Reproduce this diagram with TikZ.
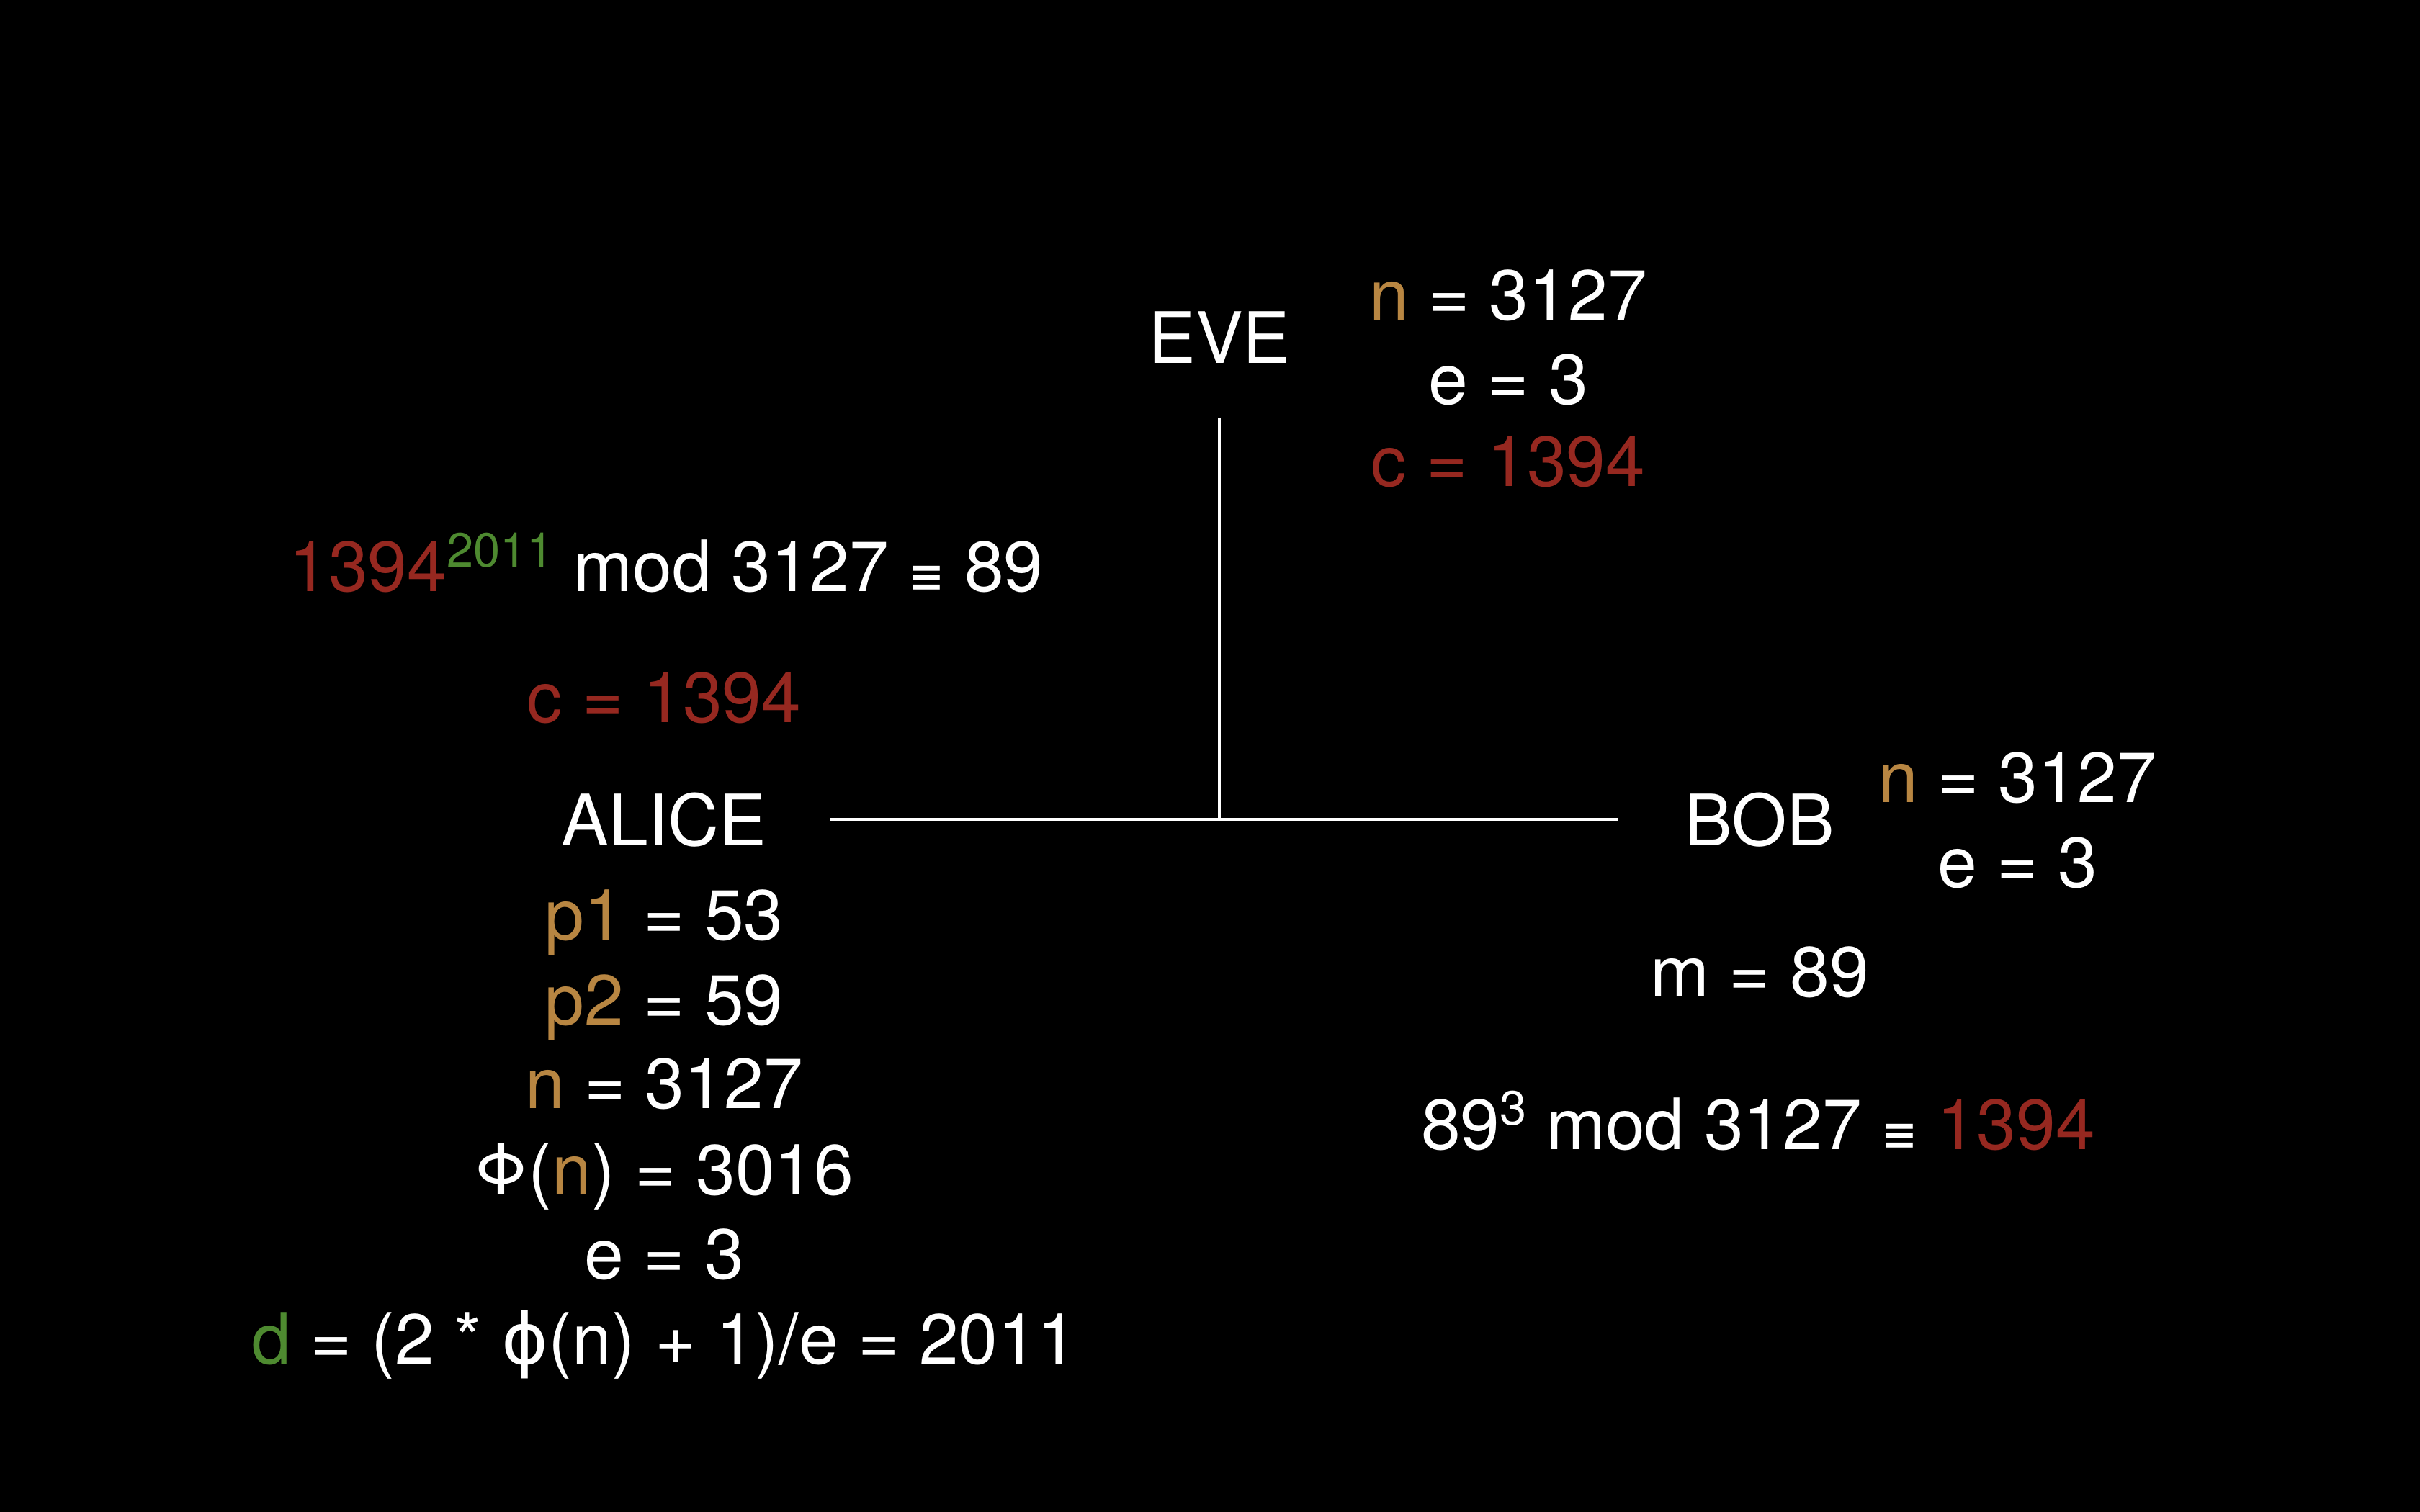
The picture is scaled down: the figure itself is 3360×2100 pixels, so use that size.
\documentclass[tikz,border=0pt]{standalone}
\usepackage{fontspec}
\setmainfont{TeX Gyre Heros}
\newfontfamily\glyphfont{DejaVu Sans}
\usepackage{xcolor}
\usepackage{tikz}
\usetikzlibrary{positioning,calc}
\definecolor{keygold}{RGB}{184,134,66}
\definecolor{cipherred}{RGB}{150,40,32}
\definecolor{secretgreen}{RGB}{78,138,48}
\newcommand{\upidx}[1]{\raisebox{9.5pt}{\fontsize{19}{19}\selectfont #1}}
\newcommand{\modeq}{{\fontsize{17}{17}\glyphfont\bfseries ≡}}

\begin{document}
\begin{tikzpicture}[x=0.01cm, y=-0.01cm,
    every node/.style={text=white, font=\fontsize{28}{34}\selectfont, inner sep=0pt, anchor=base},
    wire/.style={draw=white, line width=1.1pt}]
  \fill[black] (0,0) rectangle (3360,2100);

  % Parties
  \node (eve) at (1693,504) {EVE};
  \node (alice) at (922,1174) {ALICE};
  \node (bob) at (2443,1174) {BOB};

  % Channel
  \coordinate (junction) at (eve.south |- alice.east);
  \draw[wire, shorten <=0.87cm, shorten >=0.93cm] (alice.east) -- (bob.west);
  \draw[wire, shorten <=0.75cm] (eve.south) -- (junction);

  % What Eve sees
  \node (eveN) at (2094,444) {{\color{keygold}n} = 3127};
  \node (eveE) at (2094,561) {e = 3};
  \node[text=cipherred] (eveC) at (2094,675) {c = 1394};

  % Alice side
  \node (decrypt) at (925,821) {{\color{cipherred}1394}\upidx{\color{secretgreen}2011} mod 3127 \modeq{} 89};
  \node[text=cipherred] (aliceC) at (922,1003) {c = 1394};
  \node (aliceP1) at (922,1305) {{\color{keygold}p1} = 53};
  \node (aliceP2) at (922,1423) {{\color{keygold}p2} = 59};
  \node (aliceN) at (922,1539) {{\color{keygold}n} = 3127};
  \node (alicePhi) at (922,1659) {Φ({\color{keygold}n}) = 3016};
  \node (aliceE) at (922,1776) {e = 3};
  \node (aliceD) at (922,1894) {{\color{secretgreen}d} = (2 * {\glyphfont ϕ}(n) + 1)/e = 2011};

  % Bob side
  \node (bobN) at (2801,1114) {{\color{keygold}n} = 3127};
  \node (bobE) at (2801,1232) {e = 3};
  \node (bobM) at (2443,1384) {m = 89};
  \node (encrypt) at (2441,1596) {89\upidx{3} mod 3127 \modeq{} {\color{cipherred}1394}};
\end{tikzpicture}
\end{document}
